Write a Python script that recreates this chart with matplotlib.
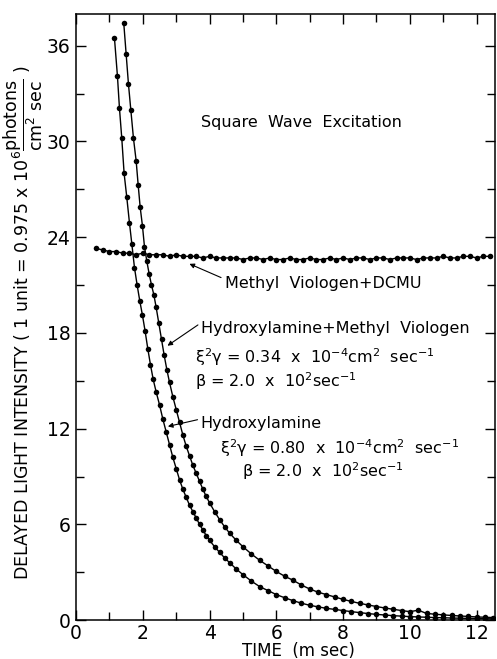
import numpy as np
import matplotlib
matplotlib.use("Agg")
import matplotlib.pyplot as plt

plt.rcParams['font.family'] = ['DejaVu Sans']
plt.rcParams['mathtext.default'] = 'regular'

# Hydroxylamine (faster decay)
t_ha = [1.15, 1.24, 1.30, 1.37, 1.44, 1.52, 1.60, 1.67, 1.75, 1.83, 1.91, 1.99,
        2.07, 2.15, 2.23, 2.31, 2.40, 2.50, 2.60, 2.70, 2.80, 2.90, 3.00, 3.10,
        3.20, 3.30, 3.40, 3.50, 3.60, 3.70, 3.80, 3.90, 4.00, 4.15, 4.30, 4.45,
        4.60, 4.80, 5.00, 5.25, 5.50, 5.75, 6.00, 6.25, 6.50, 6.75, 7.00, 7.25,
        7.50, 7.75, 8.00, 8.25, 8.50, 8.75, 9.00, 9.25, 9.50, 9.75, 10.00, 10.25,
        10.50, 10.75, 11.00, 11.25, 11.50, 11.75, 12.00, 12.25, 12.50]
i_ha = [36.5, 34.1, 32.1, 30.2, 28.0, 26.5, 24.9, 23.6, 22.1, 21.0, 20.0, 19.1,
        18.1, 17.0, 16.0, 15.1, 14.3, 13.5, 12.6, 11.8, 11.0, 10.2, 9.5, 8.8,
        8.2, 7.7, 7.2, 6.8, 6.4, 6.0, 5.65, 5.3, 5.0, 4.6, 4.25, 3.9,
        3.6, 3.2, 2.85, 2.45, 2.1, 1.85, 1.6, 1.4, 1.22, 1.06, 0.93, 0.83,
        0.74, 0.67, 0.6, 0.53, 0.47, 0.41, 0.36, 0.32, 0.28, 0.25, 0.22, 0.2,
        0.18, 0.16, 0.15, 0.13, 0.12, 0.11, 0.1, 0.09, 0.08]

# Hydroxylamine + Methyl Viologen
t_hmv = [1.43, 1.50, 1.57, 1.64, 1.72, 1.80, 1.86, 1.92, 1.99, 2.05, 2.12, 2.19,
         2.26, 2.33, 2.40, 2.48, 2.56, 2.64, 2.72, 2.80, 2.90, 3.00, 3.10, 3.20,
         3.30, 3.40, 3.50, 3.60, 3.70, 3.80, 3.90, 4.00, 4.15, 4.30, 4.45, 4.60,
         4.80, 5.00, 5.25, 5.50, 5.75, 6.00, 6.25, 6.50, 6.75, 7.00, 7.25, 7.50,
         7.75, 8.00, 8.25, 8.50, 8.75, 9.00, 9.25, 9.50, 9.75, 10.00, 10.25, 10.50,
         10.75, 11.00, 11.25, 11.50, 11.75, 12.00, 12.25, 12.50]
i_hmv = [37.4, 35.5, 33.6, 32.0, 30.2, 28.8, 27.3, 25.9, 24.7, 23.4, 22.5, 21.7,
         21.0, 20.4, 19.6, 18.6, 17.6, 16.6, 15.7, 14.9, 14.0, 13.2, 12.4, 11.6,
         10.9, 10.3, 9.7, 9.2, 8.7, 8.2, 7.75, 7.35, 6.8, 6.3, 5.85, 5.45,
         5.0, 4.6, 4.15, 3.75, 3.4, 3.05, 2.75, 2.5, 2.2, 1.95, 1.75, 1.6,
         1.45, 1.3, 1.17, 1.05, 0.95, 0.85, 0.76, 0.68, 0.6, 0.53, 0.62, 0.42,
         0.37, 0.33, 0.29, 0.26, 0.23, 0.2, 0.18, 0.16]

# Methyl Viologen + DCMU (sampled every 0.2 ms)
t_mv = np.round(np.arange(0.6, 12.45, 0.2), 2)
i_mv = [23.3, 23.2, 23.1, 23.1, 23.0, 23.0, 22.9, 23.0, 22.9, 22.9,
        22.9, 22.8, 22.9, 22.8, 22.8, 22.8, 22.7, 22.8, 22.7, 22.7,
        22.7, 22.7, 22.6, 22.7, 22.7, 22.6, 22.7, 22.6, 22.6, 22.7,
        22.6, 22.6, 22.7, 22.6, 22.6, 22.7, 22.6, 22.7, 22.6, 22.7,
        22.7, 22.6, 22.7, 22.7, 22.6, 22.7, 22.7, 22.7, 22.6, 22.7,
        22.7, 22.7, 22.8, 22.7, 22.7, 22.8, 22.8, 22.7, 22.8, 22.8]

fig = plt.figure(figsize=(4.97, 6.59), dpi=100)
ax = fig.add_axes([0.153, 0.059, 0.843, 0.920])

for t, v in [(t_ha, i_ha), (t_hmv, i_hmv)]:
    ax.plot(t, v, color='black', lw=1.0)
    ax.plot(t, v, 'o', color='black', ms=4.0, mew=0)
ax.plot(t_mv, i_mv, color='black', lw=1.0)
ax.plot(t_mv, i_mv, 'o', color='black', ms=4.0, mew=0)

ax.set_xlim(0, 12.55)
ax.set_ylim(0, 38.0)
ax.set_xticks(range(0, 13, 2))
ax.set_xticks(range(0, 13), minor=True)
ax.set_yticks(range(0, 37, 6))
ax.set_yticks(range(0, 37, 3), minor=True)
ax.tick_params(which='both', direction='in', top=True, right=True,
               labelsize=13.5, width=1.0)
ax.tick_params(axis='x', pad=3)
ax.tick_params(axis='y', pad=4)
ax.tick_params(which='major', length=7)
ax.tick_params(which='minor', length=5.5)
for s in ax.spines.values():
    s.set_linewidth(1.1)

ax.set_xlabel('TIME  (m sec)', fontsize=12)
ax.xaxis.set_label_coords(0.53, -0.036)
ax.set_ylabel(r'DELAYED LIGHT INTENSITY ( 1 unit = 0.975 x 10$^6$'
              r'$\dfrac{photons}{cm^2\ sec}$ )', fontsize=12.5)
ax.yaxis.set_label_coords(-0.074, 0.49)

fs = 11.5
ax.text(3.73, 31.2, 'Square  Wave  Excitation', fontsize=fs, va='center')
ax.text(4.47, 21.1, 'Methyl  Viologen+DCMU', fontsize=fs, va='center')
ax.text(3.73, 18.3, 'Hydroxylamine+Methyl  Viologen', fontsize=fs, va='center')
ax.text(3.57, 16.5, r'$\xi^2\gamma$ = 0.34  x  10$^{-4}$cm$^2$  sec$^{-1}$',
        fontsize=fs, va='center')
ax.text(3.57, 15.0, r'$\beta$ = 2.0  x  10$^2$sec$^{-1}$', fontsize=fs, va='center')
ax.text(3.73, 12.3, 'Hydroxylamine', fontsize=fs, va='center')
ax.text(4.32, 10.8, r'$\xi^2\gamma$ = 0.80  x  10$^{-4}$cm$^2$  sec$^{-1}$',
        fontsize=fs, va='center')
ax.text(4.97, 9.35, r'$\beta$ = 2.0  x  10$^2$sec$^{-1}$', fontsize=fs, va='center')

arrow = dict(arrowstyle='-|>', color='black', lw=0.8, mutation_scale=7)
ax.annotate('', xy=(3.32, 22.4), xytext=(4.42, 21.4), arrowprops=arrow)
ax.annotate('', xy=(2.67, 17.1), xytext=(3.72, 18.6), arrowprops=arrow)
ax.annotate('', xy=(2.67, 12.1), xytext=(3.72, 12.6), arrowprops=arrow)

fig.savefig('out.png', dpi=100)
